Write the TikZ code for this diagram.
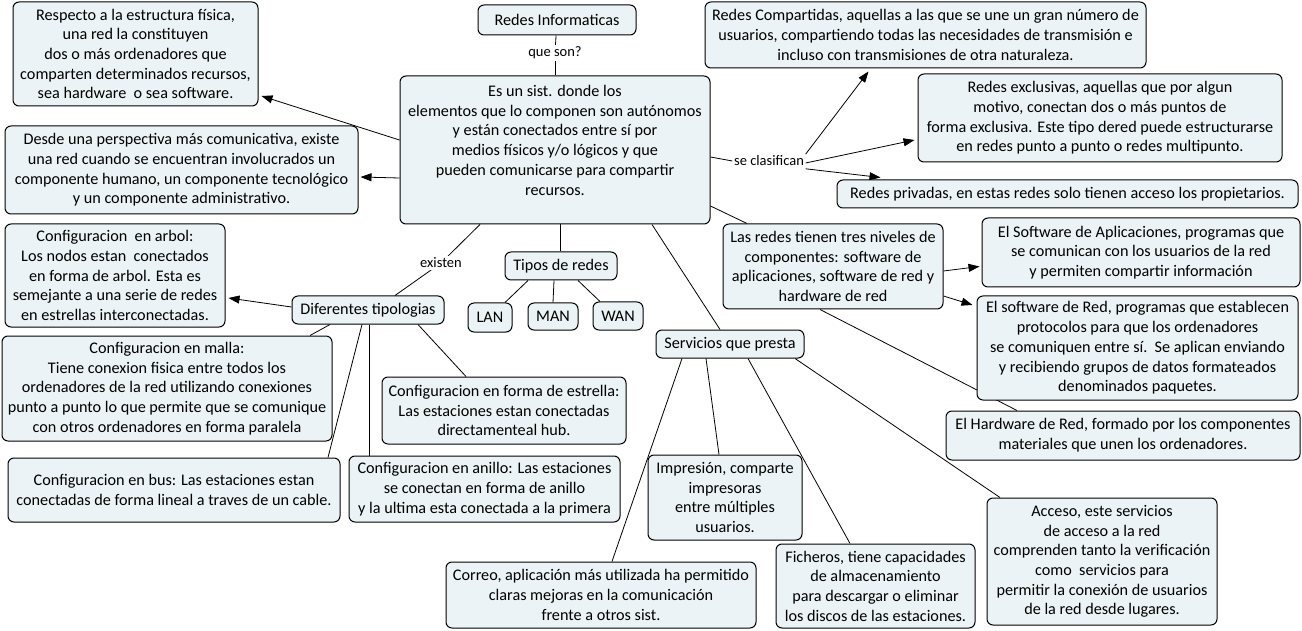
\documentclass[tikz,border=0pt]{standalone}
\usepackage{fontspec}
\setmainfont{Carlito}
\usetikzlibrary{arrows.meta,backgrounds}
\definecolor{boxfill}{RGB}{236,243,246}
\tikzset{
  box/.style={draw=black, line width=1pt, rounded corners=6pt, fill=boxfill, align=center, inner sep=0pt,
    font=\fontsize{16.2}{19.7}\selectfont},
  lbl/.style={fill=white, inner sep=1.5pt, font=\fontsize{14.5}{16}\selectfont},
  conn/.style={draw=black, line width=0.8pt},
  arr/.style={conn, -{Triangle[length=11pt,width=8pt]}}
}
\begin{document}
\begin{tikzpicture}[x=1pt,y=-1pt]
\useasboundingbox (0,0) rectangle (1302,631);
% nodes
\node[box, minimum width=158, minimum height=30] (ri) at (557,20) {Redes Informaticas};
\node[lbl] (queson) at (555,53) {que son?};
\node[box, minimum width=310, minimum height=148] (cen) at (555,150) {Es un sist. donde los\\elementos que lo componen son autónomos\\y están conectados entre sí por\\medios físicos y/o lógicos y que\\pueden comunicarse para compartir\\recursos.\\\mbox{}};
\node[box, minimum width=245, minimum height=104] (resp) at (135.5,54) {Respecto a la estructura física,\\una red la constituyen\\dos o más ordenadores que\\comparten determinados recursos,\\sea hardware\ \ o sea software.};
\node[box, minimum width=353, minimum height=88] (desde) at (181.5,170) {Desde una perspectiva más comunicativa, existe\\una red cuando se encuentran involucrados un\\componente humano, un componente tecnológico\\y un componente administrativo.};
\node[lbl] (clas) at (769,161) {se clasifican};
\node[box, minimum width=441, minimum height=66] (comp) at (925.5,35) {Redes Compartidas, aquellas a las que se une un gran número de\\usuarios, compartiendo todas las necesidades de transmisión e\\incluso con transmisiones de otra naturaleza.};
\node[box, minimum width=364, minimum height=88] (excl) at (1100,118) {Redes exclusivas, aquellas que por algun\\motivo, conectan dos o más puntos de\\forma exclusiva. Este tipo dered puede estructurarse\\en redes punto a punto o redes multipunto.};
\node[box, minimum width=461, minimum height=28] (priv) at (1067.5,194) {Redes privadas, en estas redes solo tienen acceso los propietarios.};
\node[box, minimum width=220, minimum height=85] (tres) at (833,266.5) {Las redes tienen tres niveles de\\componentes: software de\\aplicaciones, software de red y\\hardware de red};
\node[box, minimum width=318, minimum height=69] (sapl) at (1141,252.5) {El Software de Aplicaciones, programas que\\se comunican con los usuarios de la red\\y permiten compartir información};
\node[box, minimum width=321, minimum height=104] (sred) at (1137.5,348) {El software de Red, programas que establecen\\protocolos para que los ordenadores\\se comuniquen entre sí.\ \ Se aplican enviando\\y recibiendo grupos de datos formateados\\denominados paquetes.};
\node[box, minimum width=354, minimum height=49] (hw) at (1123,435.5) {El Hardware de Red, formado por los componentes\\materiales que unen los ordenadores.};
\node[box, minimum width=112, minimum height=28] (tipos) at (561,266) {Tipos de redes};
\node[box, minimum width=44, minimum height=29] (lan) at (490,317.5) {LAN};
\node[box, minimum width=50, minimum height=27] (man) at (553,316.5) {MAN};
\node[box, minimum width=50, minimum height=28] (wan) at (618,316) {WAN};
\node[lbl] (exist) at (441,263) {existen};
\node[box, minimum width=152, minimum height=28] (dif) at (368,310) {Diferentes tipologias};
\node[box, minimum width=220, minimum height=103] (arbol) at (115,275.5) {Configuracion\ \ en arbol:\\Los nodos estan\ \ conectados\\en forma de arbol. Esta es\\semejante a una serie de redes\\en estrellas interconectadas.};
\node[box, minimum width=330, minimum height=105] (malla) at (167,388.5) {Configuracion en malla:\\Tiene conexion fisica entre todos los\\ordenadores de la red utilizando conexiones\\punto a punto lo que permite que se comunique\\con otros ordenadores en forma paralela};
\node[box, minimum width=244, minimum height=67] (estr) at (504,410.5) {Configuracion en forma de estrella:\\Las estaciones estan conectadas\\directamenteal hub.};
\node[box, minimum width=332, minimum height=64] (bus) at (174,490) {Configuracion en bus: Las estaciones estan\\conectadas de forma lineal a traves de un cable.};
\node[box, minimum width=271, minimum height=66] (anillo) at (484.5,489) {Configuracion en anillo: Las estaciones\\se conectan en forma de anillo\\y la ultima esta conectada a la primera};
\node[box, minimum width=148, minimum height=28] (serv) at (730,344) {Servicios que presta};
\node[box, minimum width=154, minimum height=85] (impr) at (725,497.5) {Impresión, comparte\\impresoras\\entre múltiples\\usuarios.};
\node[box, minimum width=310, minimum height=66] (correo) at (601,595) {Correo, aplicación más utilizada ha permitido\\claras mejoras en la comunicación\\frente a otros sist.};
\node[box, minimum width=199, minimum height=84] (fich) at (875.5,586) {Ficheros, tiene capacidades\\de almacenamiento\\para descargar o eliminar\\los discos de las estaciones.};
\node[box, minimum width=230, minimum height=127] (acc) at (1102,561.5) {Acceso, este servicios\\de acceso a la red\\comprenden tanto la verificación\\como\ \ servicios para\\permitir la conexión de usuarios\\de la red desde lugares.};
% connectors
\begin{scope}[on background layer]
\draw[conn] (ri) -- (queson);
\draw[conn] (queson) -- (cen);
\draw[arr] ([yshift=10pt]cen.west) -- ([xshift=3pt,yshift=-42pt]resp.east);
\draw[arr] ([yshift=-28pt]cen.west) -- ([xshift=2pt,yshift=-7pt]desde.east);
\draw[conn] ([yshift=-7pt]cen.east) -- (clas.west);
\draw[arr] (clas.north east) -- ([xshift=-57pt,yshift=-3pt]comp.south);
\draw[arr] ([yshift=-2pt]clas.east) -- ([xshift=-3pt,yshift=-22pt]excl.west);
\draw[arr] ([yshift=-1pt]clas.south east) -- ([xshift=-187pt,yshift=2pt]priv.north);
\draw[conn] ([yshift=-56pt]cen.east) -- ([xshift=-86pt]tres.north);
\draw[arr] ([yshift=-4.5pt]tres.east) -- ([xshift=-2pt,yshift=-14pt]sapl.west);
\draw[arr] ([yshift=-29.5pt]tres.east) -- ([xshift=-4pt,yshift=43pt]sred.west);
\draw[conn] ([xshift=-13pt]tres.south) -- ([xshift=-106pt]hw.north);
\draw[conn] ([xshift=5pt]cen.south) -- ([xshift=-1pt]tipos.north);
\draw[conn] ([xshift=-33pt]tipos.south) -- ([xshift=15pt]lan.north);
\draw[conn] ([xshift=-7pt]tipos.south) -- (man.north);
\draw[conn] ([xshift=17pt]tipos.south) -- ([xshift=-18pt]wan.north);
\draw[conn] ([xshift=-75pt]cen.south) -- (exist);
\draw[conn] (exist) -- ([xshift=27pt]dif.north);
\draw[arr] ([yshift=3pt]dif.west) -- ([xshift=3pt,yshift=-22.5pt]arbol.east);
\draw[conn] ([xshift=-38pt]dif.south) -- ([xshift=143pt]malla.north);
\draw[conn] ([xshift=50pt]dif.south) -- ([xshift=-38pt]estr.north);
\draw[conn] ([xshift=-6pt]dif.south) -- ([xshift=154pt]bus.north);
\draw[conn] ([xshift=1pt]dif.south) -- ([xshift=-115.5pt]anillo.north);
\draw[conn] ([xshift=97pt]cen.south) -- ([xshift=-10pt]serv.north);
\draw[conn] ([xshift=-24pt]serv.south) -- ([xshift=-6pt]impr.north);
\draw[conn] ([xshift=-48pt]serv.south) -- ([xshift=11pt]correo.north);
\draw[conn] ([xshift=18pt]serv.south) -- ([xshift=-25.5pt]fich.north);
\draw[conn] ([xshift=65pt]serv.south) -- ([xshift=-102pt]acc.north);
\end{scope}
\end{tikzpicture}
\end{document}
